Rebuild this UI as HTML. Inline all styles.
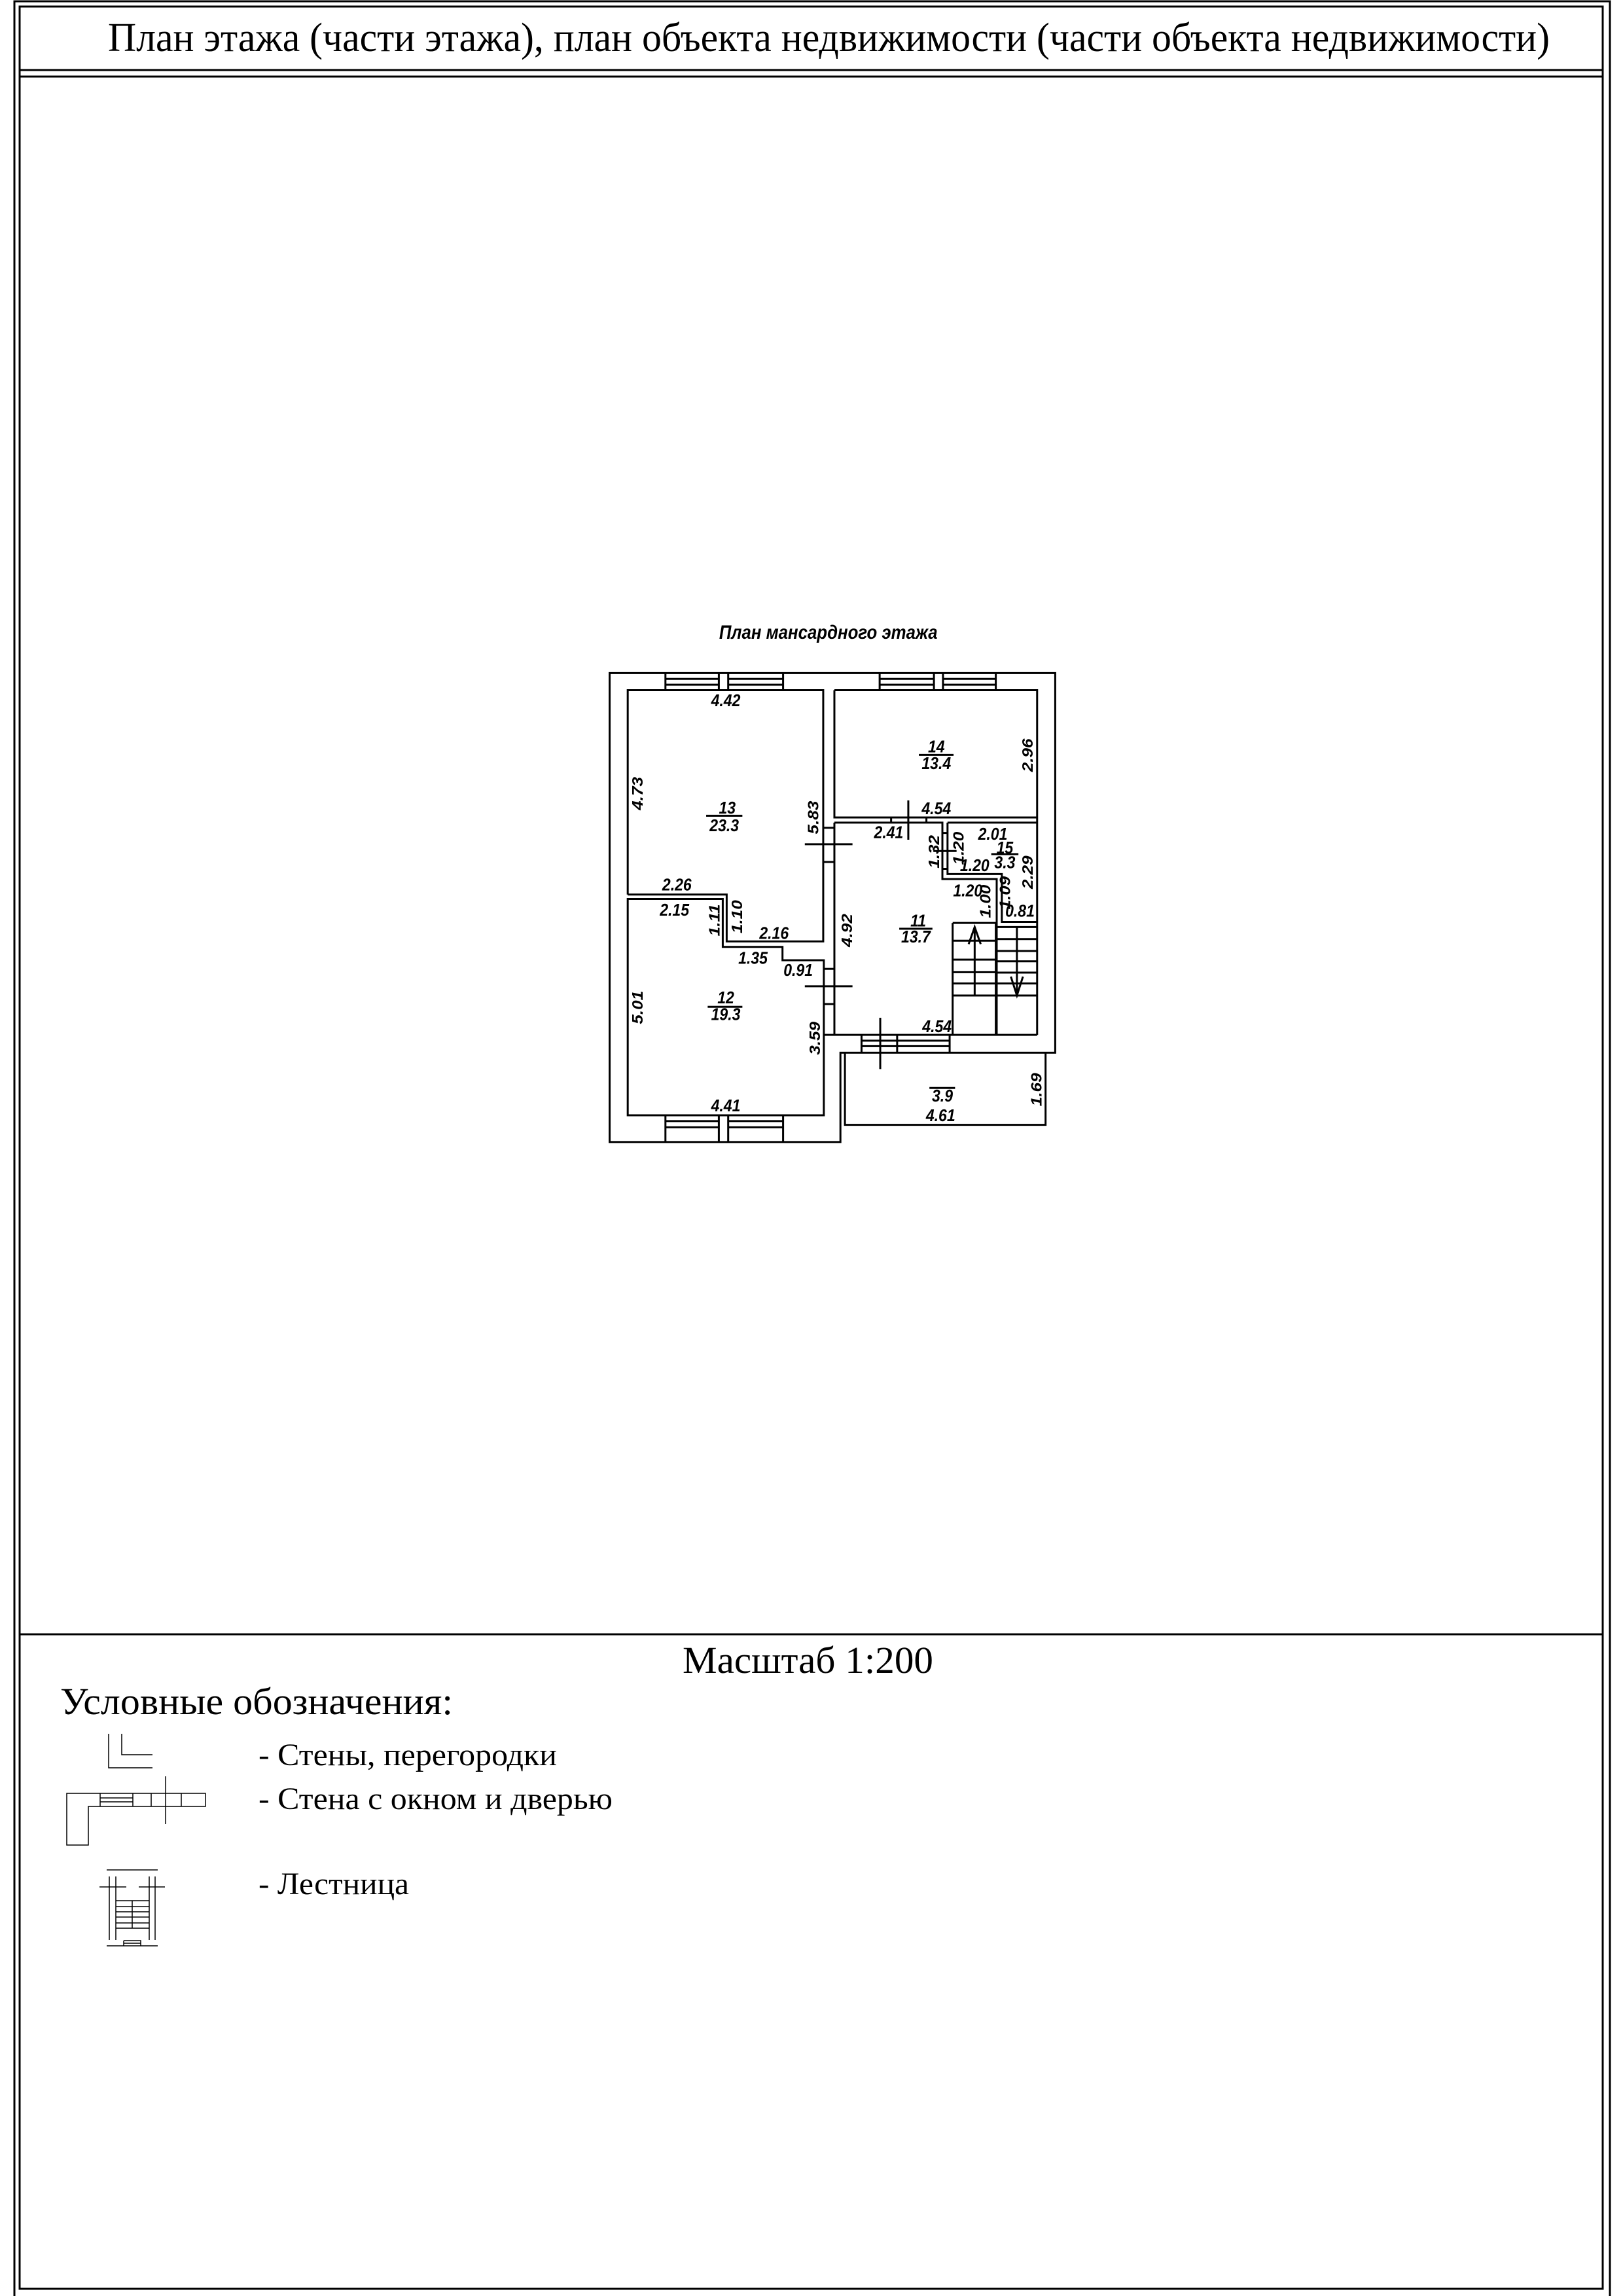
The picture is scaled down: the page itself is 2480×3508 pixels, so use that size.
<!DOCTYPE html>
<html><head><meta charset="utf-8"><style>html,body{margin:0;padding:0;background:#fff}svg{display:block}</style></head>
<body>
<svg width="2480" height="3508" viewBox="0 0 2480 3508" xmlns="http://www.w3.org/2000/svg">
<rect width="2480" height="3508" fill="#fff"/>
<g fill="none" stroke="#000" stroke-width="3">
<path d="M22,3508 V2 H2460 V3508"/>
<rect x="30" y="10" width="2419" height="3487"/>
<line x1="30" y1="107" x2="2449" y2="107"/>
<line x1="30" y1="117" x2="2449" y2="117"/>
<line x1="30" y1="2497" x2="2449" y2="2497"/>
</g>
<g font-family="Liberation Serif, serif" fill="#000">
<text x="165" y="78" font-size="62" textLength="2203" lengthAdjust="spacingAndGlyphs">План этажа (части этажа), план объекта недвижимости (части объекта недвижимости)</text>
<text x="1043" y="2556" font-size="58" textLength="383" lengthAdjust="spacingAndGlyphs">Масштаб 1:200</text>
<text x="92" y="2619" font-size="58" textLength="600" lengthAdjust="spacingAndGlyphs">Условные обозначения:</text>
<text x="395" y="2697" font-size="48" textLength="456" lengthAdjust="spacingAndGlyphs">- Стены, перегородки</text>
<text x="395" y="2764" font-size="48" textLength="541" lengthAdjust="spacingAndGlyphs">- Стена с окном и дверью</text>
<text x="395" y="2894" font-size="48" textLength="230" lengthAdjust="spacingAndGlyphs">- Лестница</text>
</g>
<g fill="none" stroke="#000" stroke-width="1.5">
<path d="M166,2649 V2701 H233"/>
<path d="M186,2649 V2681 H233"/>
<path d="M102,2740 H314 V2760 H135 V2819 H102 Z"/>
<path d="M153,2740 V2760 M203,2740 V2760 M231,2740 V2760 M277,2740 V2760 M153,2747 H203 M153,2753 H203 M253,2714 V2787"/>
<path d="M163,2857 H241 M163,2973 H241 M167,2867 V2964 M177,2867 V2964 M228,2867 V2964 M237,2867 V2964 M152,2883 H193 M212,2883 H252"/>
<path d="M177,2904 H228 M177,2913 H228 M177,2921 H228 M177,2929 H228 M177,2938 H228 M177,2946 H228 M202,2904 V2946"/>
<path d="M189,2965 H215 V2973 M189,2965 V2973 M189,2969 H215"/>
</g>
<g transform="translate(920,930) scale(0.461,0.523)">
<g fill="none" stroke="#000" stroke-width="3">
<path vector-effect="non-scaling-stroke" d="M25,188 H1502 V1297 H790 V1558 H25 Z"/>
<path vector-effect="non-scaling-stroke" d="M805,1297 V1508 H1470 V1297"/>
<path vector-effect="non-scaling-stroke" d="M85,835 V238 H733 V972 H413 V835 H85"/>
<path vector-effect="non-scaling-stroke" d="M85,848 H400 V988 H598 V1027 H735 V1480 H85 Z"/>
<path vector-effect="non-scaling-stroke" d="M770,238 H1442 V1245 M770,238 V610 H1442"/>
<path vector-effect="non-scaling-stroke" d="M770,625 H1128 V790 H1308 V1245 M770,625 V1245 H735 M770,1245 H1442"/>
<path vector-effect="non-scaling-stroke" d="M1145,625 H1442 M1145,625 V775 H1325 V915 H1442"/>
<path vector-effect="non-scaling-stroke" d="M735,640 H770 M735,740 H770 M672,688 H830 M735,1052 H770 M735,1155 H770 M672,1103 H830 M1015,560 V675 M958,610 V625 M1075,610 V625 M1098,708 H1175 M1128,655 H1145 M1128,760 H1145 M922,1195 V1345"/>
<path vector-effect="non-scaling-stroke" d="M210,188 V238 M387,188 V238 M418,188 V238 M600,188 V238 M210,205 H387 M210,222 H387 M418,205 H600 M418,222 H600"/>
<path vector-effect="non-scaling-stroke" d="M920,188 V238 M1100,188 V238 M1130,188 V238 M1305,188 V238 M920,205 H1100 M920,222 H1100 M1130,205 H1305 M1130,222 H1305"/>
<path vector-effect="non-scaling-stroke" d="M210,1480 V1558 M387,1480 V1558 M418,1480 V1558 M600,1480 V1558 M210,1497 H387 M210,1515 H387 M418,1497 H600 M418,1515 H600"/>
<path vector-effect="non-scaling-stroke" d="M860,1245 V1297 M978,1245 V1297 M1152,1245 V1297 M860,1262 H1152 M860,1278 H1152"/>
<path vector-effect="non-scaling-stroke" d="M1162,918 H1305 V1245 M1162,918 V1245 M1162,970 H1305 M1162,1025 H1305 M1162,1062 H1305 M1162,1095 H1305 M1162,1130 H1305 M1235,930 V1130 M1215,980 L1235,930 L1255,980"/>
<path vector-effect="non-scaling-stroke" d="M1308,930 H1442 M1308,965 H1442 M1308,1000 H1442 M1308,1030 H1442 M1308,1063 H1442 M1308,1095 H1442 M1308,1130 H1442 M1375,930 V1130 M1355,1075 L1375,1130 L1395,1075"/>
<path vector-effect="non-scaling-stroke" d="M345,605 H465 M1050,427 H1165 M1290,717 H1380 M985,935 H1095 M350,1163 H465 M1085,1400 H1170"/>
</g>
<g font-family="Liberation Sans, DejaVu Sans, sans-serif" font-style="italic" font-weight="bold" font-size="50" fill="#000" text-anchor="middle">
<text x="750" y="88" font-size="56">План мансардного этажа</text>
<text x="410" y="285">4.42</text>
<text x="415" y="598">13</text><text x="405" y="650">23.3</text>
<text x="1108" y="420">14</text><text x="1108" y="468">13.4</text>
<text x="1108" y="600">4.54</text>
<text x="950" y="670">2.41</text>
<text x="1295" y="675">2.01</text>
<text x="1335" y="715">15</text><text x="1335" y="758">3.3</text>
<text x="1235" y="767">1.20</text>
<text x="1212" y="840">1.20</text>
<text x="1385" y="900">0.81</text>
<text x="248" y="823">2.26</text>
<text x="240" y="897">2.15</text>
<text x="570" y="965">2.16</text>
<text x="500" y="1037">1.35</text>
<text x="650" y="1073">0.91</text>
<text x="1048" y="928">11</text><text x="1040" y="975">13.7</text>
<text x="410" y="1153">12</text><text x="410" y="1202">19.3</text>
<text x="1110" y="1237">4.54</text>
<text x="1128" y="1440">3.9</text><text x="1122" y="1497">4.61</text>
<text x="410" y="1468">4.41</text>
<text transform="translate(135,540) rotate(-90)">4.73</text>
<text transform="translate(717,610) rotate(-90)">5.83</text>
<text transform="translate(1427,428) rotate(-90)">2.96</text>
<text transform="translate(1117,710) rotate(-90)">1.32</text>
<text transform="translate(1199,700) rotate(-90)">1.20</text>
<text transform="translate(1427,770) rotate(-90)">2.29</text>
<text transform="translate(1287,855) rotate(-90)">1.00</text>
<text transform="translate(1352,830) rotate(-90)">1.09</text>
<text transform="translate(389,910) rotate(-90)">1.11</text>
<text transform="translate(464,900) rotate(-90)">1.10</text>
<text transform="translate(829,940) rotate(-90)">4.92</text>
<text transform="translate(135,1165) rotate(-90)">5.01</text>
<text transform="translate(722,1255) rotate(-90)">3.59</text>
<text transform="translate(1457,1405) rotate(-90)">1.69</text>
</g>
</g>
</svg>
</body></html>
